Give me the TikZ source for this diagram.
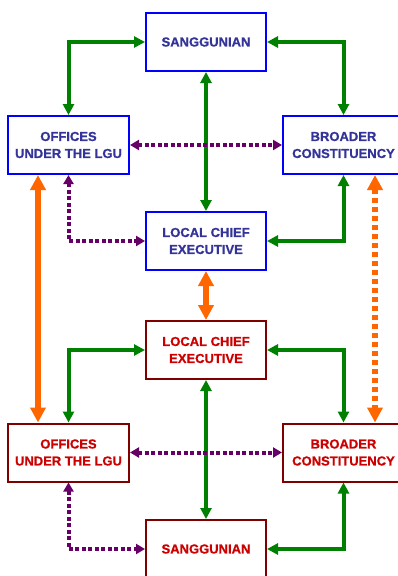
\documentclass[tikz,border=0pt]{standalone}
\usepackage{fontspec}
\setmainfont{Liberation Sans}[BoldFeatures={FakeBold=0.8}]
\usetikzlibrary{arrows.meta}
\definecolor{bbord}{RGB}{0,0,255}
\definecolor{btext}{RGB}{51,51,153}
\definecolor{rbord}{RGB}{128,0,0}
\definecolor{rtext}{RGB}{204,0,0}
\definecolor{gline}{RGB}{0,128,0}
\definecolor{pline}{RGB}{102,0,102}
\definecolor{oline}{RGB}{255,102,0}
\tikzset{
  box/.style={draw, fill=white, line width=2pt, minimum width=120pt, minimum height=58pt,
    inner sep=0pt, align=center, font=\bfseries\fontsize{13}{17}\selectfont},
  bbox/.style={box, draw=bbord, text=btext},
  rbox/.style={box, draw=rbord, text=rtext},
  gl/.style={draw=gline, line width=4pt, {Triangle[length=11pt,width=11pt]}-{Triangle[length=11pt,width=11pt]}},
  pl/.style={draw=pline, line width=4pt, dash pattern=on 4pt off 2.5pt, {Triangle[length=9pt,width=10pt]}-{Triangle[length=9pt,width=10pt]}},
  ol/.style={draw=oline, line width=6pt, {Triangle[length=15pt,width=15pt]}-{Triangle[length=15pt,width=15pt]}},
  od/.style={draw=oline, line width=6pt, dash pattern=on 5pt off 4pt, {Triangle[length=15pt,width=15pt]}-{Triangle[length=15pt,width=15pt]}},
}
\begin{document}
\begin{tikzpicture}[x=1pt,y=-1pt]
\useasboundingbox (0,0) rectangle (398,576);
\clip (0,0) rectangle (398,576);
\node[bbox] (st) at (206,42) {SANGGUNIAN};
\node[bbox, minimum width=121pt] (ot) at (68.5,145) {OFFICES\\UNDER THE LGU};
\node[bbox, minimum width=121pt] (bt) at (343.5,145) {BROADER\\CONSTITUENCY};
\node[bbox] (lt) at (206,241) {LOCAL CHIEF\\EXECUTIVE};
\node[rbox] (lr) at (206,350) {LOCAL CHIEF\\EXECUTIVE};
\node[rbox, minimum width=121pt] (or) at (68.5,452.5) {OFFICES\\UNDER THE LGU};
\node[rbox, minimum width=121pt] (br) at (343.5,452.5) {BROADER\\CONSTITUENCY};
\node[rbox] (sr) at (206,549) {SANGGUNIAN};

\draw[gl] (st.west) -| (ot.north);
\draw[gl] (st.east) -| (bt.north);
\draw[gl] (st.south) -- (lt.north);
\draw[pl] (ot.east) -- (bt.west);
\draw[pl] (ot.south) |- (lt.west);
\draw[gl] (bt.south) |- (lt.east);
\draw[ol] ([xshift=-30.5pt]ot.south) -- ([xshift=-30.5pt]or.north);
\draw[od] ([xshift=31.5pt]bt.south) -- ([xshift=31.5pt]br.north);
\draw[ol] (lt.south) -- (lr.north);
\draw[gl] (lr.west) -| (or.north);
\draw[gl] (lr.east) -| (br.north);
\draw[gl] (lr.south) -- (sr.north);
\draw[pl] (or.east) -- (br.west);
\draw[pl] (or.south) |- (sr.west);
\draw[gl] (br.south) |- (sr.east);
\end{tikzpicture}
\end{document}
